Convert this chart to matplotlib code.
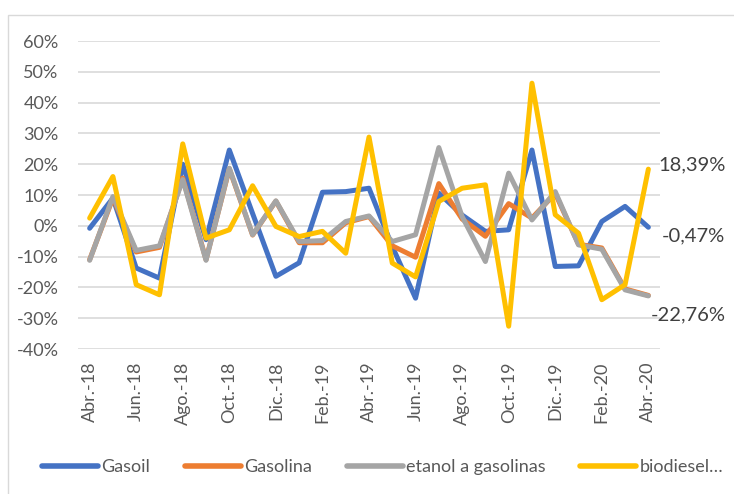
import matplotlib.pyplot as plt
from matplotlib.patches import Rectangle
from matplotlib.ticker import FuncFormatter

plt.rcParams['font.family'] = ['Lato', 'DejaVu Sans']

months = ["Abr.-18", "May.-18", "Jun.-18", "Jul.-18", "Ago.-18", "Sep.-18",
          "Oct.-18", "Nov.-18", "Dic.-18", "Ene.-19", "Feb.-19", "Mar.-19",
          "Abr.-19", "May.-19", "Jun.-19", "Jul.-19", "Ago.-19", "Sep.-19",
          "Oct.-19", "Nov.-19", "Dic.-19", "Ene.-20", "Feb.-20", "Mar.-20",
          "Abr.-20"]

gasoil = [-0.8, 9.0, -13.7, -17.0, 20.0, -4.5, 24.6, 4.0, -16.4, -12.0,
          10.9, 11.1, 12.2, -6.7, -23.5, 10.6, 3.5, -1.8, -1.3, 24.6,
          -13.2, -13.0, 1.4, 6.3, -0.47]
gasolina = [-11.0, 9.0, -8.5, -7.0, 15.5, -11.0, 18.5, -3.0, 8.0, -5.5,
            -5.5, 1.0, 3.0, -6.5, -10.2, 13.7, 2.2, -3.4, 7.2, 2.5,
            10.5, -6.0, -7.2, -20.5, -22.6]
etanol = [-11.2, 9.5, -8.0, -6.5, 15.0, -11.2, 18.7, -2.9, 8.1, -5.1,
          -4.8, 1.4, 3.2, -5.1, -2.9, 25.4, 3.0, -11.6, 17.1, 1.9,
          11.1, -6.2, -7.6, -20.8, -22.76]
biodiesel = [2.5, 16.0, -19.1, -22.4, 26.6, -4.0, -1.3, 13.0, -0.2, -3.5,
             -1.8, -8.9, 28.8, -12.1, -16.6, 7.9, 12.2, 13.3, -32.6, 46.3,
             3.6, -2.4, -24.0, -19.1, 18.39]

series = [("Gasoil", gasoil, "#4472C4"),
          ("Gasolina", gasolina, "#ED7D31"),
          ("etanol a gasolinas", etanol, "#A5A5A5"),
          ("biodiesel…", biodiesel, "#FFC000")]

end_labels = ["18,39%", "-0,47%", "-22,76%"]

fig = plt.figure(figsize=(7.34, 4.94), dpi=100)
# outer chart border (only left and top edges are visible in the crop)
fig.patches.append(Rectangle((8 / 734, -0.1), 1.1, 1.1 - 15 / 494,
                             transform=fig.transFigure, fill=False,
                             edgecolor="#D9D9D9", linewidth=1.0))
ax = fig.add_axes([78 / 734, 1 - 349 / 494, (660 - 78) / 734, (349 - 41) / 494])

x = list(range(len(months)))
for name, vals, col in series:
    ax.plot(x, vals, color=col, linewidth=3.6, label=name,
            solid_joinstyle="round", solid_capstyle="round")

ax.set_xlim(-0.5, len(months) - 0.5)
ax.set_ylim(-40, 60)
ax.set_yticks(range(-40, 61, 10))
ax.yaxis.set_major_formatter(FuncFormatter(lambda v, p: f"{int(v)}%"))
ax.set_xticks(x[::2])
ax.set_xticklabels(months[::2], rotation=90)
ax.tick_params(axis="both", length=0, labelsize=13, labelcolor="#595959")
ax.tick_params(axis="y", pad=14)
ax.tick_params(axis="x", pad=9)
ax.grid(axis="y", color="#D9D9D9", linewidth=1.2)
ax.set_axisbelow(True)
for s in ax.spines.values():
    s.set_visible(False)

# data labels at the last point
last = len(months) - 1
ax.annotate(end_labels[0], (last, biodiesel[-1]), xytext=(7, 3),
            textcoords="offset points", va="center", ha="left",
            fontsize=14.5, color="#404040", annotation_clip=False)
ax.annotate(end_labels[1], (last, gasoil[-1]), xytext=(10, -6),
            textcoords="offset points", va="center", ha="left",
            fontsize=14.5, color="#404040", annotation_clip=False)
ax.annotate(end_labels[2], (last, etanol[-1]), xytext=(2, -14),
            textcoords="offset points", va="center", ha="left",
            fontsize=14.5, color="#404040", annotation_clip=False)

leg = fig.legend(loc="center left", bbox_to_anchor=(42 / 734, 1 - 467 / 494),
                 ncol=4, frameon=False, fontsize=13, handlelength=3.1,
                 handletextpad=0.2, columnspacing=1.9, borderpad=0,
                 borderaxespad=0, labelcolor="#595959")
for h in leg.get_lines():
    h.set_linewidth(4.0)
    h.set_solid_capstyle("round")

fig.savefig("out.png", dpi=100)
